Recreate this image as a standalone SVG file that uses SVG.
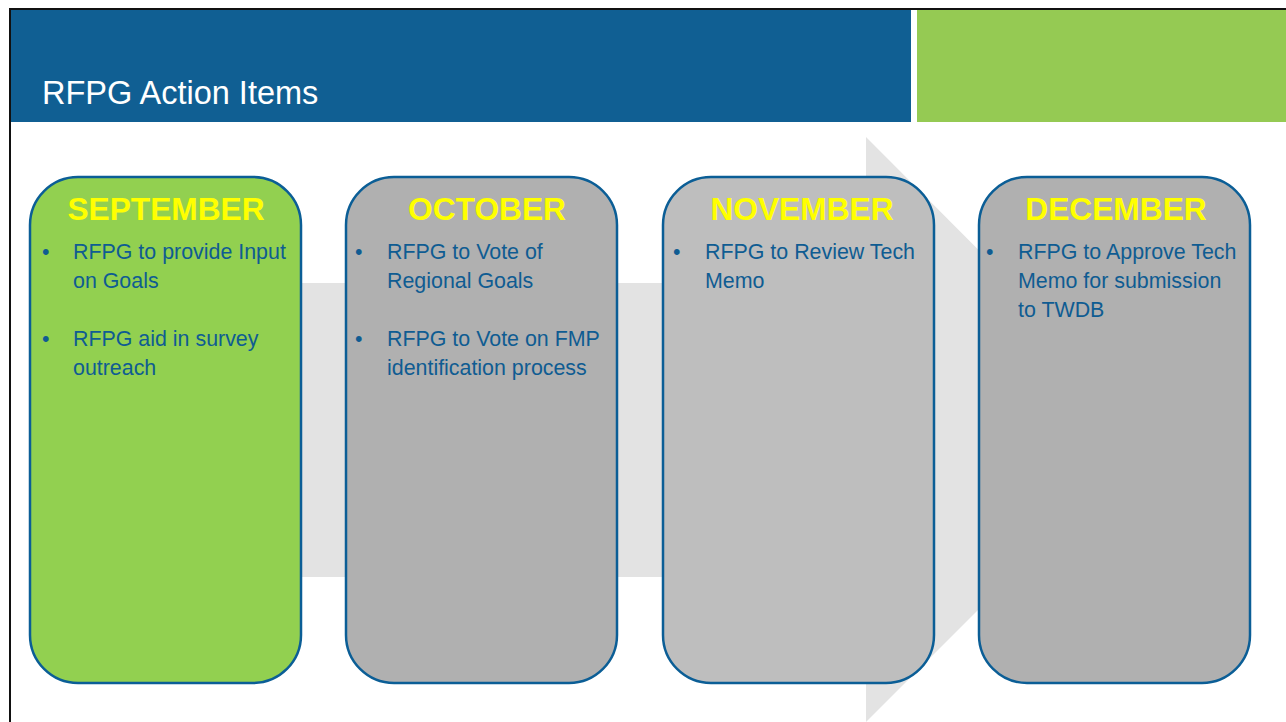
<svg xmlns="http://www.w3.org/2000/svg" width="1286" height="722" viewBox="0 0 1286 722">
  <style>
    .box { stroke: #0B5E96; stroke-width: 2.5; }
    .head { font-family: "Liberation Sans", Arial, sans-serif; font-weight: bold; font-size: 31.7px; fill: #FFFF00; text-anchor: middle; }
    .body { font-family: "Liberation Sans", Arial, sans-serif; font-size: 21.4px; fill: #0F5C92; }
    .title { font-family: "Liberation Sans", Arial, sans-serif; font-size: 32.5px; fill: #FFFFFF; }
  </style>
  <rect x="0" y="0" width="1286" height="722" fill="#FFFFFF"/>
  <!-- frame -->
  <line x1="10" y1="9" x2="1286" y2="9" stroke="#111111" stroke-width="2"/>
  <line x1="10" y1="8" x2="10" y2="722" stroke="#111111" stroke-width="2"/>
  <!-- header -->
  <rect x="11" y="10" width="900" height="112" fill="#105F93"/>
  <rect x="917" y="10" width="369" height="112" fill="#95CA53"/>
  <text class="title" x="42" y="104">RFPG Action Items</text>
  <!-- background arrow -->
  <g id="connectors">
    <polygon points="290,283 866,283 866,137 1158,430 866,722 866,577 290,577" fill="#E3E3E3"/>
  </g>
  <g id="september">
    <rect class="box" x="30" y="177" width="271" height="506" rx="48" ry="48" fill="#92D050"/>
    <text class="head" x="166" y="220">SEPTEMBER</text>
    <text class="body" x="42" y="259">•</text>
    <text class="body" x="73" y="259">RFPG to provide Input</text>
    <text class="body" x="73" y="288">on Goals</text>
    <text class="body" x="42" y="346">•</text>
    <text class="body" x="73" y="346">RFPG aid in survey</text>
    <text class="body" x="73" y="375">outreach</text>
  </g>
  <g id="october">
    <rect class="box" x="346" y="177" width="271" height="506" rx="48" ry="48" fill="#B0B0B0"/>
    <text class="head" x="487" y="220">OCTOBER</text>
    <text class="body" x="355" y="259">•</text>
    <text class="body" x="387" y="259">RFPG to Vote of</text>
    <text class="body" x="387" y="288">Regional Goals</text>
    <text class="body" x="355" y="346">•</text>
    <text class="body" x="387" y="346">RFPG to Vote on FMP</text>
    <text class="body" x="387" y="375">identification process</text>
  </g>
  <g id="november">
    <rect class="box" x="663" y="177" width="271" height="506" rx="48" ry="48" fill="#BEBEBE"/>
    <text class="head" x="802" y="220">NOVEMBER</text>
    <text class="body" x="673" y="259">•</text>
    <text class="body" x="705" y="259">RFPG to Review Tech</text>
    <text class="body" x="705" y="288">Memo</text>
  </g>
  <g id="december">
    <rect class="box" x="979" y="177" width="271" height="506" rx="48" ry="48" fill="#B0B0B0"/>
    <text class="head" x="1116" y="220">DECEMBER</text>
    <text class="body" x="986" y="259">•</text>
    <text class="body" x="1018" y="259">RFPG to Approve Tech</text>
    <text class="body" x="1018" y="288">Memo for submission</text>
    <text class="body" x="1018" y="317">to TWDB</text>
  </g>
</svg>
